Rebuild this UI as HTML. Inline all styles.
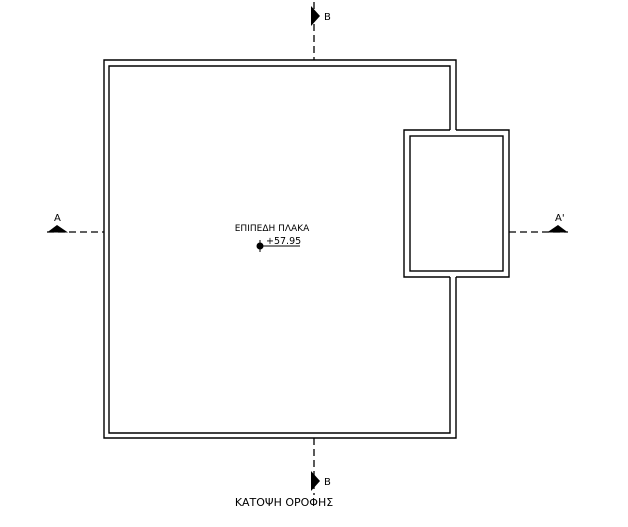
<!DOCTYPE html>
<html><head><style>body{margin:0;background:#fff}svg{display:block}</style></head>
<body>
<svg width="628" height="527" viewBox="0 0 628 527" xmlns="http://www.w3.org/2000/svg" font-family="DejaVu Sans, Liberation Sans, sans-serif">
<g fill="none" stroke="#000" stroke-width="1.4">
<polyline points="456,130 456,60 104,60 104,438 456,438 456,277"/>
<polyline points="450,130 450,66 109,66 109,433 450,433 450,277"/>
<polyline points="450,130 404,130 404,277 450,277"/>
<polyline points="456,130 509,130 509,277 456,277"/>
<rect x="410" y="136" width="93" height="135"/>
</g>
<g stroke="#000" stroke-width="1.3" stroke-dasharray="7,4" fill="none">
<line x1="47" y1="232" x2="104" y2="232"/>
<line x1="509" y1="232" x2="568" y2="232"/>
<line x1="314" y1="2" x2="314" y2="60"/>
<line x1="314" y1="438" x2="314" y2="495"/>
</g>
<g fill="#000">
<polygon points="47,232.5 57,225 68,232.5"/>
<polygon points="547,232.5 558,225 568,232.5"/>
<polygon points="311,6 320,16 311,26"/>
<polygon points="311,471 320,481 311,491"/>
<circle cx="260" cy="246" r="3.5"/>
</g>
<line x1="263" y1="246" x2="300" y2="246" stroke="#000" stroke-width="1"/>
<line x1="260" y1="240" x2="260" y2="252" stroke="#000" stroke-width="1"/>
<g font-size="10" fill="#000">
<text x="54" y="221">A</text>
<text x="555" y="221">A'</text>
<text x="324" y="20">B</text>
<text x="324" y="485">B</text>
<text x="272" y="231" font-size="9" text-anchor="middle">ΕΠΙΠΕΔΗ ΠΛΑΚΑ</text>
<text x="266" y="244" font-size="9.5">+57.95</text>
<text x="284" y="506" font-size="11" text-anchor="middle">ΚΑΤΟΨΗ ΟΡΟΦΗΣ</text>
</g>
</svg>
</body></html>
